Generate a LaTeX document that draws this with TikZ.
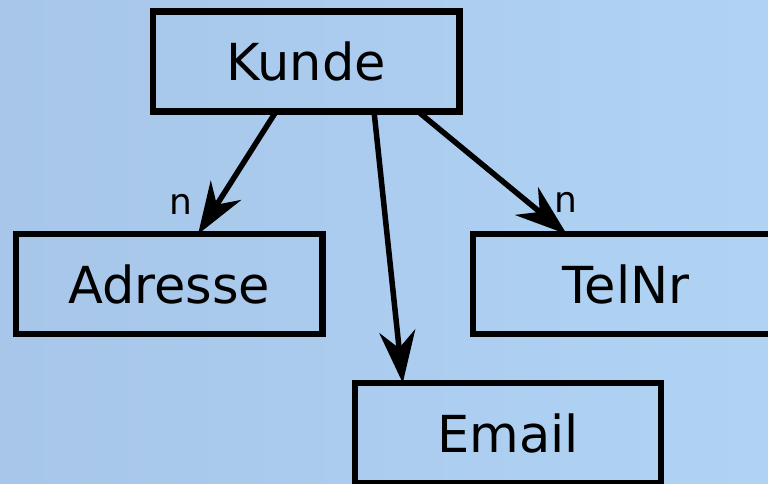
\documentclass[tikz,border=0pt]{standalone}
\usepackage{fontspec}
\setmainfont{DejaVu Sans}
\usetikzlibrary{arrows.meta}
\definecolor{bgleft}{HTML}{A7C6E9}
\definecolor{bgright}{HTML}{B0D3F4}
\begin{document}
\begin{tikzpicture}[x=1pt,y=-1pt,
  entity/.style={draw=black, line width=6.4pt, minimum width=306.5pt, minimum height=100pt,
    inner sep=0pt, outer sep=0pt, font=\fontsize{51}{60}\selectfont},
  link/.style={line width=5.5pt, -{Stealth[length=52pt,width=36pt,inset=17pt]}},
  card/.style={font=\fontsize{36}{43}\selectfont}]
  % background
  \fill[left color=bgleft, right color=bgright] (0,0) rectangle (768,483);
  \useasboundingbox (0,0) rectangle (768,483);
  \clip (0,0) rectangle (768,483);

  % entities
  \node[entity] (kunde)   at (306.3,61.5)  {Kunde};
  \node[entity] (adresse) at (169.3,284.2) {Adresse};
  \node[entity] (telnr)   at (626,284.2)   {TelNr};
  \node[entity] (email)   at (508,433)     {Email};

  % relations
  \draw[link] ([xshift=123pt]kunde.south west) -- ([xshift=182pt]adresse.north west)
    node[card, pos=0.756, xshift=-36pt] {n};
  \draw[link] ([xshift=221pt]kunde.south west) -- ([xshift=48pt]email.north west);
  \draw[link] ([xshift=265pt]kunde.south west) -- ([xshift=94pt]telnr.north west)
    node[card, pos=0.74, xshift=38pt] {n};
\end{tikzpicture}
\end{document}
